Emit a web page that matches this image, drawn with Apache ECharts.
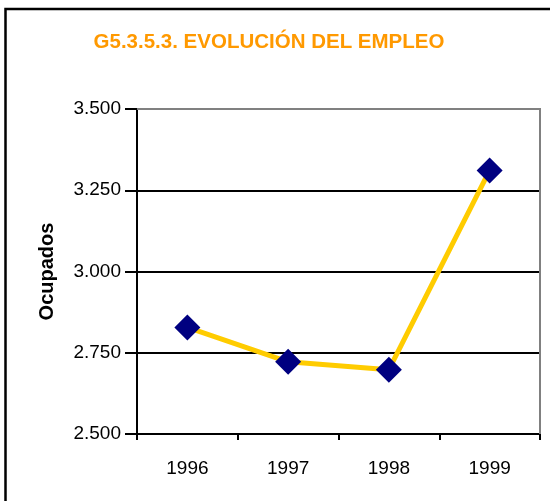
<!DOCTYPE html>
<html>
<head>
<meta charset="utf-8">
<script src="https://cdn.jsdelivr.net/npm/echarts@6/dist/echarts.min.js"></script>
<style>
  html, body { margin: 0; padding: 0; background: #fff; }
  #chart { width: 550px; height: 501px; }
</style>
</head>
<body>
<div id="chart"></div>
<script>
// Data
const years = ['1996', '1997', '1998', '1999'];
const ocupados = [2828, 2722, 2698, 3311];
const yMin = 2500;
const yMax = 3500;
const yStep = 250;

const chart = echarts.init(document.getElementById('chart'));

// Thousand separator with a dot
function fmt(v) {
  return String(v).replace(/\B(?=(\d{3})+(?!\d))/g, '.');
}

const option = {
  animation: false,
  backgroundColor: '#ffffff',
  textStyle: { fontFamily: 'Liberation Sans, Arial, sans-serif' },
  title: {
    text: 'G5.3.5.3. EVOLUCIÓN DEL EMPLEO',
    left: 264,
    top: 27,
    textAlign: 'center',
    textStyle: {
      color: '#FF9900',
      fontSize: 20.5,
      fontWeight: 'bold',
      fontFamily: 'Liberation Sans, Arial, sans-serif'
    }
  },
  graphic: [{
    // outer frame
    type: 'rect',
    shape: { x: 5.5, y: 9, width: 560, height: 510 },
    style: { fill: null, stroke: '#000', lineWidth: 2.5 },
    silent: true
  }, {
    // plot frame (top / right in grey)
    type: 'polyline',
    shape: { points: [[137, 109], [540, 109], [540, 434]] },
    style: { fill: null, stroke: '#808080', lineWidth: 2 },
    silent: true,
    z: 1
  }],
  grid: {
    left: 137,
    right: 10,
    top: 109,
    bottom: 67
  },
  xAxis: {
    type: 'category',
    data: years,
    boundaryGap: true,
    axisLine: { lineStyle: { color: '#000', width: 2 } },
    axisTick: { show: true, length: 6, lineStyle: { color: '#000', width: 2 } },
    axisLabel: { color: '#000', fontSize: 19, margin: 25 }
  },
  yAxis: {
    type: 'value',
    min: yMin,
    max: yMax,
    interval: yStep,
    name: 'Ocupados',
    nameLocation: 'middle',
    nameGap: 80,
    nameRotate: 90,
    nameTextStyle: { color: '#000', fontSize: 20, fontWeight: 'bold' },
    axisLine: { show: true, lineStyle: { color: '#000', width: 2 } },
    axisTick: { show: true, inside: false, length: 12, lineStyle: { color: '#000', width: 2 } },
    axisLabel: { color: '#000', fontSize: 19, margin: 16, formatter: fmt },
    splitLine: { show: true, lineStyle: { color: '#000', width: 2 } }
  },
  series: [{
    type: 'line',
    data: ocupados,
    symbol: 'diamond',
    symbolSize: 26,
    lineStyle: { color: '#FFCC00', width: 5 },
    itemStyle: { color: '#000080' },
    z: 3
  }]
};

chart.setOption(option);
</script>
</body>
</html>
